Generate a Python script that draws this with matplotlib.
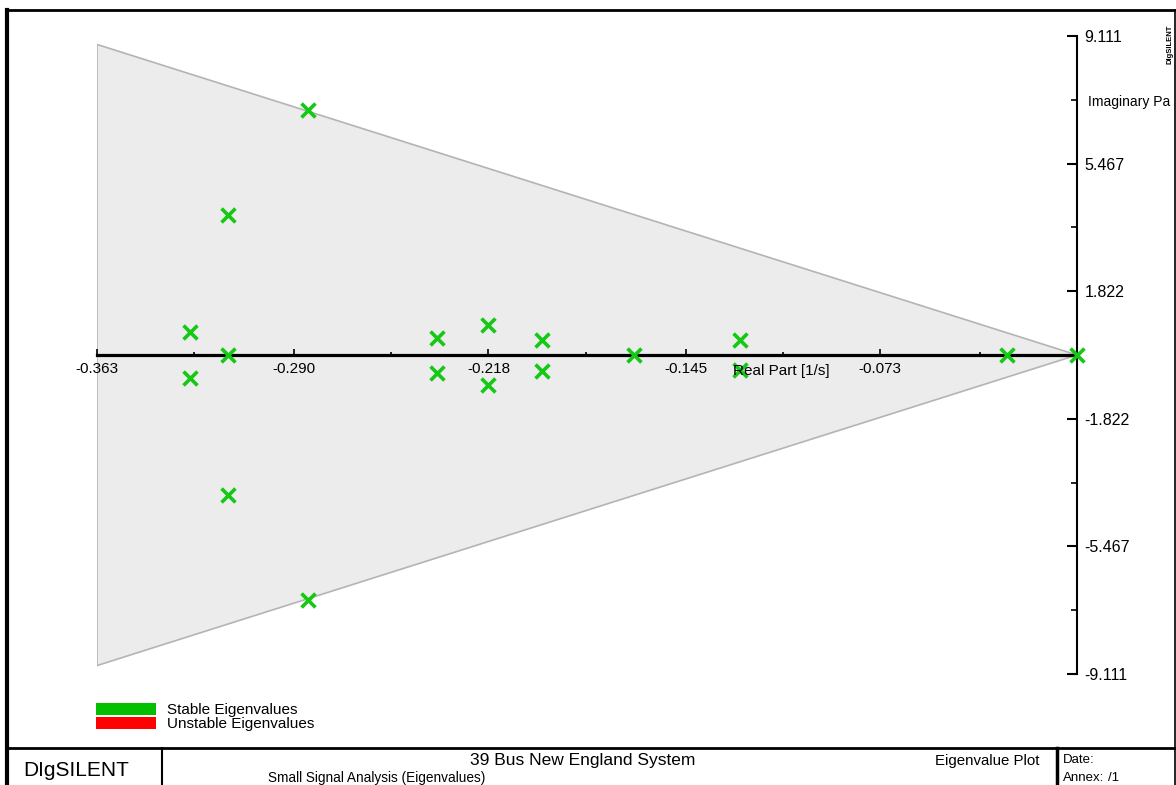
import matplotlib
matplotlib.use("Agg")
import matplotlib.pyplot as plt
from matplotlib.lines import Line2D
from matplotlib.patches import Polygon, Rectangle

plt.rcParams['font.family'] = ['Liberation Sans', 'DejaVu Sans']

# eigenvalues (real part [1/s], imaginary part)
real_part = [-0.2848, -0.2848, -0.3144, -0.3144, -0.3144, -0.3285, -0.3285,
             -0.237, -0.237, -0.218, -0.218, -0.198, -0.198, -0.164,
             -0.125, -0.125, -0.026, 0.0]
imag_part = [7.0, -7.0, 4.0, -4.0, 0.0, 0.66, -0.66,
             0.49, -0.5, 0.86, -0.86, 0.43, -0.45, 0.0,
             0.43, -0.43, 0.0, 0.0]

# stability region drawn behind the eigenvalues
region_real = [-0.363, -0.363, 0.0]
region_imag = [8.87, -8.87, 0.0]

x_major = [-0.363, -0.290, -0.218, -0.145, -0.073]
x_minor = [-0.327, -0.254, -0.182, -0.109, -0.036]
y_major = [9.111, 5.467, 1.822, -1.822, -5.467, -9.111]
y_minor = [7.289, 3.644, -3.644, -7.289]

legend_labels = ["Stable Eigenvalues", "Unstable Eigenvalues"]
legend_colors = ["#00c000", "#ff0000"]

W, H = 1176, 785
fig = plt.figure(figsize=(W / 100, H / 100), dpi=100)


def fx(x):
    return x / W


def fy(y):
    return 1 - y / H


ax = fig.add_axes([fx(97), fy(674), (1077 - 97) / W, (674 - 36) / H])
ax.set_xlim(-0.363, 0.0)
ax.set_ylim(-9.111, 9.111)
ax.patch.set_visible(False)

ax.add_patch(Polygon(list(zip(region_real, region_imag)), closed=True,
                     facecolor="#ececec", edgecolor="#b4b4b4", lw=1.2, zorder=1))

ax.scatter(real_part, imag_part, marker="x", s=100, color="#14c814",
           linewidths=2.6, zorder=5, clip_on=False)

for s in ["top", "left"]:
    ax.spines[s].set_visible(False)
ax.spines["bottom"].set_position("zero")
ax.spines["bottom"].set_bounds(-0.363, 0.0)
ax.spines["bottom"].set_linewidth(2.3)
ax.spines["right"].set_position("zero")
ax.spines["right"].set_bounds(-9.111, 9.111)
ax.spines["right"].set_linewidth(1.5)

ax.set_xticks(x_major)
ax.set_xticklabels([f"{v:.3f}" for v in x_major])
ax.set_xticks(x_minor, minor=True)
ax.yaxis.tick_right()
ax.set_yticks(y_major)
ax.set_yticklabels([f"{v:.3f}" for v in y_major])
ax.set_yticks(y_minor, minor=True)

ax.tick_params(axis="x", which="major", direction="in", length=4.5, width=1.2,
               pad=5, labelsize=11)
ax.tick_params(axis="x", which="minor", direction="in", length=2.5, width=1.2)
ax.tick_params(axis="y", which="major", direction="in", length=7, width=1.5,
               pad=5.5, labelsize=11.5)
ax.tick_params(axis="y", which="minor", direction="in", length=4, width=1.2)

fig.text(fx(733), fy(371), "Real Part [1/s]", fontsize=11, va="center", ha="left")
# the printout's page frame cuts the imaginary axis title here
fig.text(fx(1088), fy(102), "Imaginary Pa", fontsize=10, va="center", ha="left")

# legend
for i, (lab, col) in enumerate(zip(legend_labels, legend_colors)):
    top = 703 + i * 14
    fig.add_artist(Rectangle((fx(96), fy(top + 12)), 60 / W, 12 / H,
                             transform=fig.transFigure, facecolor=col, edgecolor="none"))
    fig.text(fx(167), fy(top + 7), lab, fontsize=11, va="center", ha="left")

# page frame and title block
frame = [((7, 7), (10, 785), 3.0), ((7, 1175), (10, 10), 2.0), ((1175, 1175), (10, 785), 1.2),
         ((7, 1175), (748, 748), 2.0), ((162, 162), (748, 785), 1.5),
         ((1057, 1057), (748, 785), 2.5)]
for xs, ys, lw in frame:
    fig.add_artist(Line2D([fx(xs[0]), fx(xs[1])], [fy(ys[0]), fy(ys[1])],
                          transform=fig.transFigure, color="black", lw=lw))

fig.text(fx(76), fy(771), "DIgSILENT", fontsize=15, ha="center", va="center")
fig.text(fx(583), fy(761), "39 Bus New England System", fontsize=12.5, ha="center", va="center")
fig.text(fx(268), fy(778), "Small Signal Analysis (Eigenvalues)", fontsize=9.8, ha="left", va="center")
fig.text(fx(935), fy(761), "Eigenvalue Plot", fontsize=10.8, ha="left", va="center")
fig.text(fx(1063), fy(760), "Date:", fontsize=9.5, ha="left", va="center")
fig.text(fx(1063), fy(778), "Annex:", fontsize=9.5, ha="left", va="center")
fig.text(fx(1108), fy(778), "/1", fontsize=9.5, ha="left", va="center")
fig.text(fx(1170), fy(44), "DIgSILENT", fontsize=5.5, fontweight="bold", rotation=90,
         ha="center", va="center")

fig.savefig("out.png", dpi=100)
